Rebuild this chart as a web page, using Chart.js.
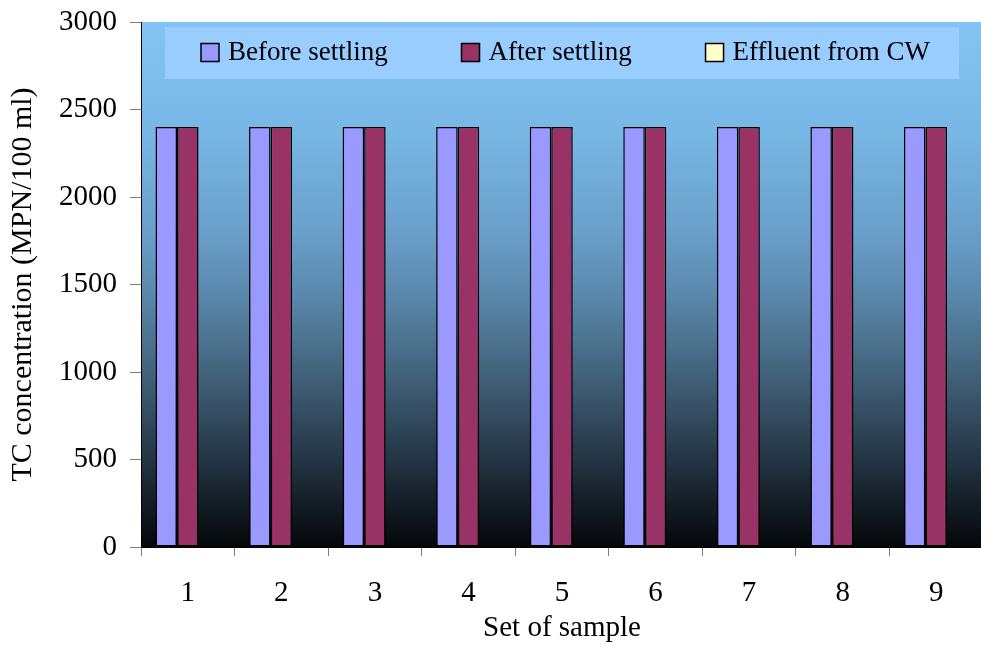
<!DOCTYPE html>
<html>
<head>
<meta charset="utf-8">
<title>TC concentration by sample set</title>
<script src="https://cdn.jsdelivr.net/npm/chart.js@4/dist/chart.umd.min.js"></script>
<style>
  html, body { margin: 0; padding: 0; background: #fff; overflow: hidden; }
  #wrap { width: 981px; height: 646px; overflow: hidden; position: relative; background: #fff; }
  canvas { display: block; }
</style>
</head>
<body>
<div id="wrap"><canvas id="chart" width="983" height="646"></canvas></div>
<script>
// Sample sets on the x axis
const sampleSets = ['1', '2', '3', '4', '5', '6', '7', '8', '9'];

// Total coliform (MPN/100 ml) per sample set
const beforeSettling = [2400, 2400, 2400, 2400, 2400, 2400, 2400, 2400, 2400];
const afterSettling  = [2400, 2400, 2400, 2400, 2400, 2400, 2400, 2400, 2400];
const effluentFromCW = [0, 0, 0, 0, 0, 0, 0, 0, 0];

// Series names
const seriesNames = ['Before settling', 'After settling', 'Effluent from CW'];

// Value axis range
const yMin = 0;
const yMax = 3000;
const yStep = 500;

const FONT = '"Liberation Serif", "Times New Roman", "DejaVu Serif", serif';

// Sky-to-black gradient filling the plot area
const plotBackground = {
  id: 'plotBackground',
  beforeDraw(chart) {
    const { ctx, chartArea: a } = chart;
    const g = ctx.createLinearGradient(0, a.top, 0, a.bottom);
    g.addColorStop(0.00, '#82c4f3');
    g.addColorStop(0.20, '#79b8e6');
    g.addColorStop(0.40, '#6a9fca');
    g.addColorStop(0.52, '#5a88ab');
    g.addColorStop(0.66, '#43657e');
    g.addColorStop(0.80, '#2a3e4f');
    g.addColorStop(0.90, '#17222c');
    g.addColorStop(1.00, '#04070a');
    ctx.save();
    ctx.fillStyle = g;
    ctx.fillRect(a.left, a.top, a.right - a.left, a.bottom - a.top);
    ctx.restore();
  }
};

// Legend panel drawn inside the top of the plot
const insideLegend = {
  id: 'insideLegend',
  afterDraw(chart) {
    const { ctx, chartArea: a } = chart;
    const boxL = a.left + 24, boxR = 959, boxT = 27, boxB = 79;
    const midY = 52.5;
    const mark = 18, gapMarkText = 9;
    const spanL = 201, spanR = 930;

    ctx.save();
    ctx.fillStyle = '#99ccff';
    ctx.fillRect(boxL, boxT, boxR - boxL, boxB - boxT);

    ctx.font = '27px ' + FONT;
    ctx.textBaseline = 'middle';
    ctx.textAlign = 'left';
    const items = chart.data.datasets.map(ds => ({
      label: ds.label,
      color: ds.backgroundColor,
      w: mark + gapMarkText + ctx.measureText(ds.label).width
    }));
    const total = items.reduce((s, it) => s + it.w, 0);
    const gap = (spanR - spanL - total) / (items.length - 1);
    let x = spanL;
    items.forEach(it => {
      ctx.fillStyle = it.color;
      ctx.fillRect(x, midY - mark / 2, mark, mark);
      ctx.lineWidth = 1.5;
      ctx.strokeStyle = '#000';
      ctx.strokeRect(x, midY - mark / 2, mark, mark);
      ctx.fillStyle = '#000';
      ctx.fillText(it.label, x + mark + gapMarkText, midY);
      x += it.w + gap;
    });
    ctx.restore();
  }
};

const barStyle = { borderColor: '#000000', borderWidth: 1.5, borderSkipped: false };

new Chart(document.getElementById('chart'), {
  type: 'bar',
  data: {
    labels: sampleSets,
    datasets: [
      { label: seriesNames[0], data: beforeSettling, backgroundColor: '#9999ff', ...barStyle },
      { label: seriesNames[1], data: afterSettling,  backgroundColor: '#993366', ...barStyle },
      { label: seriesNames[2], data: effluentFromCW, backgroundColor: '#ffffcc', ...barStyle }
    ]
  },
  options: {
    responsive: false,
    animation: false,
    devicePixelRatio: 1,
    categoryPercentage: 0.69,
    barPercentage: 1.0,
    layout: { padding: { top: 22, left: 0, right: 0, bottom: 0 } },
    plugins: {
      legend: { display: false },
      tooltip: { enabled: false }
    },
    scales: {
      x: {
        grid: {
          offset: true,
          drawOnChartArea: false,
          drawTicks: true,
          tickLength: 9,
          color: '#808080'
        },
        border: { display: true, color: '#000000', width: 1 },
        ticks: { color: '#000', font: { family: FONT, size: 29 }, padding: 20 },
        title: {
          display: true,
          text: 'Set of sample',
          color: '#000',
          font: { family: FONT, size: 29 },
          padding: { top: 0, bottom: 0 }
        },
        afterFit(scale) {
          scale.height = 99;
          scale.paddingLeft = 0;
          scale.paddingRight = 0;
        }
      },
      y: {
        min: yMin,
        max: yMax,
        grid: {
          drawOnChartArea: false,
          drawTicks: true,
          tickLength: 11,
          color: '#808080'
        },
        border: { display: true, color: '#000000', width: 1 },
        ticks: {
          stepSize: yStep,
          color: '#000',
          font: { family: FONT, size: 29 },
          padding: 13,
          callback: v => String(v)
        },
        title: {
          display: true,
          text: 'TC concentration (MPN/100 ml)',
          color: '#000',
          font: { family: FONT, size: 30 },
          padding: { top: 5, bottom: 0 }
        },
        afterFit(scale) {
          scale.width = 141;
          scale.paddingTop = 0;
          scale.paddingBottom = 0;
        }
      }
    }
  },
  plugins: [plotBackground, insideLegend]
});
</script>
</body>
</html>
